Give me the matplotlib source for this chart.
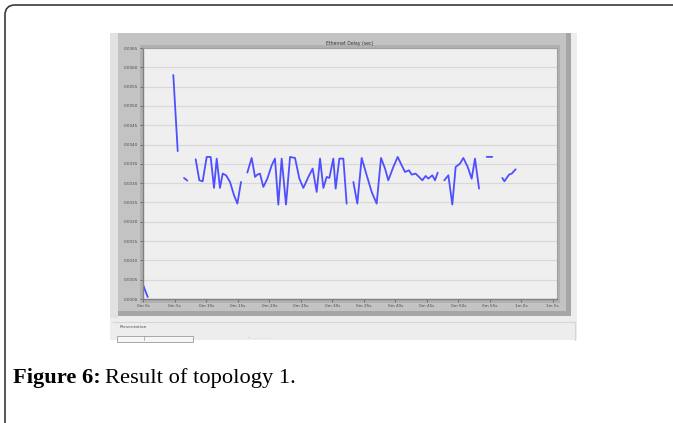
import numpy as np
import matplotlib
matplotlib.use("Agg")
import matplotlib.pyplot as plt
from matplotlib.patches import Rectangle
from matplotlib.path import Path
from matplotlib.patches import PathPatch

# ---------------- data ----------------
nan = np.nan
time_s = [
    0.0, 0.7, nan,
    4.76, 5.46, nan,
    6.46, 6.99, nan,
    8.31, 8.89, 9.42, 10.06, 10.69, 11.22, 11.65, 12.17, 12.60, 13.13, 13.76,
    14.40, 14.93, 15.51, nan,
    16.51, 17.20, 17.73, 18.10, 18.52, 19.05, 19.69, 20.38, 20.90, 21.43, 21.96,
    22.65, 23.29, 24.08, 24.77, 25.40, 26.20, 26.88, 27.52, 28.05, 28.58, 29.11,
    29.53, 30.16, 30.53, 31.12, 31.75, 32.28, nan,
    33.34, 33.97, 34.66, 35.46, 36.25, 37.04, 37.73, 38.37, 38.89, 39.69, 40.38,
    41.01, 41.54, 42.17, 42.60, 43.23, 43.76, 44.29, 44.82, 45.24, 45.88, 46.30,
    46.73, nan,
    47.78, 48.42, 49.05, 49.58, 50.27, 50.80, 51.49, 52.12, 52.65, 53.29, nan,
    54.50, 55.40, nan,
    56.99, 57.31, 58.05, 58.48, 59.11,
]
delay_ms = [
    0.35, 0.05, nan,
    5.80, 3.83, nan,
    3.135, 3.066, nan,
    3.618, 3.074, 3.048, 3.679, 3.679, 2.876, 3.636, 2.876, 3.247, 3.204, 3.031,
    2.686, 2.470, 3.031, nan,
    3.273, 3.653, 3.161, 3.221, 3.247, 2.902, 3.117, 3.463, 3.636, 2.444, 3.636,
    2.444, 3.679, 3.653, 3.117, 2.876, 3.161, 3.377, 2.772, 3.636, 2.876, 3.161,
    3.135, 3.636, 2.858, 3.636, 3.636, 2.470, nan,
    3.031, 2.470, 3.653, 3.204, 2.772, 2.470, 3.653, 3.377, 3.074, 3.420, 3.679,
    3.463, 3.290, 3.333, 3.221, 3.247, 3.161, 3.074, 3.187, 3.117, 3.204, 3.074,
    3.273, nan,
    3.074, 3.204, 2.444, 3.420, 3.506, 3.653, 3.420, 3.117, 3.636, 2.858, nan,
    3.68, 3.68, nan,
    3.135, 3.048, 3.221, 3.247, 3.359,
]
y_ticks = [0.0000, 0.0005, 0.0010, 0.0015, 0.0020, 0.0025, 0.0030,
           0.0035, 0.0040, 0.0045, 0.0050, 0.0055, 0.0060, 0.0065]
x_ticks = [0, 5, 10, 15, 20, 25, 30, 35, 40, 45, 50, 55, 60, 65]
x_labels = ["0m 0s", "0m 5s", "0m 10s", "0m 15s", "0m 20s", "0m 25s", "0m 30s",
            "0m 35s", "0m 40s", "0m 45s", "0m 50s", "0m 55s", "1m 0s", "1m 5s"]
chart_title = "Ethernet Delay (sec)"
caption_bold = "Figure 6:"
caption_text = "Result of topology 1."

# ---------------- figure ----------------
W, H = 673, 423
fig = plt.figure(figsize=(W / 100, H / 100), dpi=100)
fig.patch.set_facecolor("white")

bg = fig.add_axes([0, 0, 1, 1])
bg.set_xlim(0, W)
bg.set_ylim(H, 0)
bg.axis("off")

# outer frame: top + left with rounded corner
r = 10
verts = [(5, H + 2), (5, 5 + r), (5, 5), (5 + r, 5), (W + 2, 5)]
codes = [Path.MOVETO, Path.LINETO, Path.CURVE3, Path.CURVE3, Path.LINETO]
bg.add_patch(PathPatch(Path(verts, codes), fill=False, ec="#3a3a3a", lw=1.2))

# screenshot window
bg.add_patch(Rectangle((110, 33), 467, 307, fc="#ededed", ec="none"))
bg.add_patch(Rectangle((110, 33), 8, 285, fc="#e2e2e2", ec="none"))
bg.add_patch(Rectangle((118, 33), 452, 283, fc="#c3c3c3", ec="none"))
bg.add_patch(Rectangle((566, 33), 5, 283, fc="#a6a6a6", ec="none"))
bg.add_patch(Rectangle((118, 311), 453, 5, fc="#a6a6a6", ec="none"))
bg.add_patch(Rectangle((140, 45), 420, 258, fc="#b0b0b0", ec="none"))
# presentation panel
bg.plot([113, 575], [322, 322], color="#d6d6d6", lw=0.8)
bg.plot([575, 575], [322, 340], color="#d6d6d6", lw=0.8)
bg.text(120, 327, "Presentation", fontsize=3.2, color="#555555", va="center")
bg.add_patch(Rectangle((117, 336), 76, 6, fc="#f6f6f6", ec="#9a9a9a", lw=0.6))
bg.plot([144, 144], [336, 340], color="#9a9a9a", lw=0.5)
bg.text(248, 338, "\u2022 ....  .........", fontsize=3, color="#bbbbbb", va="center")

# ---------------- chart ----------------
x0, x1, y0, y1 = 143, 557, 48, 299
ax = fig.add_axes([x0 / W, 1 - y1 / H, (x1 - x0) / W, (y1 - y0) / H])
ax.set_facecolor("#efefef")
ax.plot(time_s, np.array(delay_ms) / 1000.0, color="#4f4fff", lw=1.3,
        solid_joinstyle="round", solid_capstyle="round")
px_per_s = 6.3
ax.set_xlim(-0.05, (x1 - x0 - 0.3) / px_per_s)
ax.set_ylim(0, 0.0065)
ax.set_yticks(y_ticks)
ax.set_yticklabels([f"{v:.4f}" for v in y_ticks])
ax.set_xticks(x_ticks)
ax.set_xticklabels(x_labels)
ax.tick_params(axis="both", labelsize=3, colors="#555555", length=2, width=0.5, pad=1.5)
ax.tick_params(axis="y", labelcolor="#4a4a4a")
ax.tick_params(axis="x", labelcolor="#4a4a4a")
ax.grid(axis="y", color="#d8d8d8", lw=0.9)
ax.set_axisbelow(True)
for s in ("left", "bottom"):
    ax.spines[s].set_color("#808080")
    ax.spines[s].set_linewidth(1.0)
for s in ("top", "right"):
    ax.spines[s].set_color("#a0a0a0")
    ax.spines[s].set_linewidth(0.8)
ax.set_title(chart_title, fontsize=3.3, color="#333333", pad=2.2)

# ---------------- caption ----------------
serif = ["Liberation Serif", "DejaVu Serif"]
t1 = fig.text(13 / W, 1 - 383 / H, caption_bold, fontsize=16.2, fontweight="bold",
              family=serif, va="baseline", ha="left", color="black")
fig.canvas.draw()
bb = t1.get_window_extent()
fig.text((bb.x1 + 4) / W, 1 - 383 / H, caption_text, fontsize=16.2,
         family=serif, va="baseline", ha="left", color="black")

fig.savefig("out.png", dpi=100, facecolor="white")
